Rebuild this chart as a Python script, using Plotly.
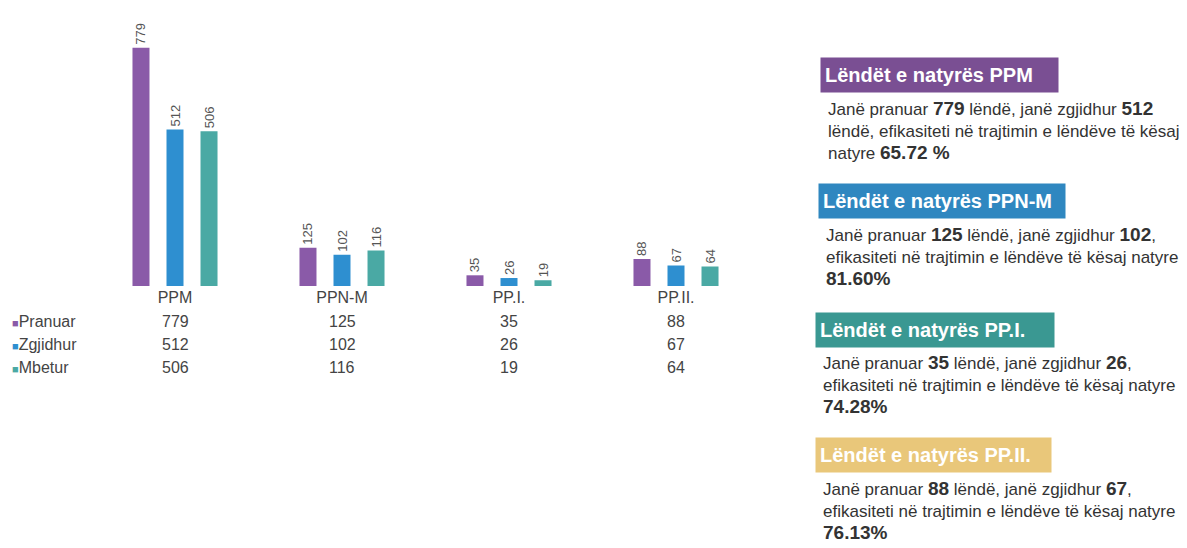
import plotly.graph_objects as go

categories = ["PPM", "PPN-M", "PP.I.", "PP.II."]
pranuar = [779, 125, 35, 88]
zgjidhur = [512, 102, 26, 67]
mbetur = [506, 116, 19, 64]
series_names = ["Pranuar", "Zgjidhur", "Mbetur"]
series_colors = ["#8A5AA8", "#2E8FD0", "#4AA9A4"]
efficacy = ["65.72 %", "81.60%", "74.28%", "76.13%"]
header_colors = ["#7A4F93", "#2F87C0", "#3A9892", "#E9C77A"]

OFF = 8  # page body margin
W, H = 1187 - OFF, 548 - OFF

def px(p):
    return (p - OFF) / W

def py(p):
    return 1 - (p - OFF) / H

fig = go.Figure()
for name, vals, col in zip(series_names, [pranuar, zgjidhur, mbetur], series_colors):
    fig.add_trace(go.Bar(
        x=categories, y=vals, name=name, marker_color=col,
        marker_line_width=0,
        text=[str(v) for v in vals], textposition="outside", textangle=-90,
        constraintext="none",
        textfont=dict(size=13, color="#555555"), cliponaxis=False,
    ))

fig.update_layout(
    width=W, height=H, margin=dict(l=0, r=0, t=0, b=0),
    paper_bgcolor="white", plot_bgcolor="white",
    font=dict(family="Liberation Sans, Arial, sans-serif", color="#444444"),
    barmode="group", bargap=0.389, bargroupgap=0.5, showlegend=False,
    uniformtext=dict(mode=False),
    xaxis=dict(domain=[px(91.5), px(759.5)], showgrid=False, showline=False,
               zeroline=False, ticks="", tickfont=dict(size=16, color="#444444")),
    yaxis=dict(domain=[py(286), py(20)], range=[0, 870], visible=False),
)

# data table rows
row_y = [321, 344, 367]
for r, (name, vals, col) in enumerate(zip(series_names, [pranuar, zgjidhur, mbetur], series_colors)):
    fig.add_annotation(xref="paper", yref="paper", x=px(10), y=py(row_y[r]),
                       xanchor="left", yanchor="middle", showarrow=False,
                       text=f"<span style='color:{col};font-size:11px'>■</span>{name}",
                       font=dict(size=16, color="#444444"))
    for i, v in enumerate(vals):
        fig.add_annotation(xref="x", yref="paper", x=categories[i], y=py(row_y[r]),
                           xanchor="center", yanchor="middle", showarrow=False,
                           text=str(v), font=dict(size=16, color="#444444"))

# right side panels
head_y = [57, 183, 312, 437]
head_x = [820, 818, 815, 815]
head_w = [237, 246, 238, 235]
body_y = [96, 222, 350, 476]
for i, cat in enumerate(categories):
    fig.add_annotation(xref="paper", yref="paper", x=px(head_x[i]), y=py(head_y[i]),
                       xanchor="left", yanchor="top", showarrow=False,
                       text=f"<b>Lëndët e natyrës {cat}</b>", align="left",
                       width=head_w[i] - 8, height=26, borderpad=4,
                       bgcolor=header_colors[i],
                       font=dict(size=20, color="white"))
    b = "<b><span style='font-size:19px'>{}</span></b>"
    if i == 0:
        body = ("Janë pranuar " + b.format(pranuar[i]) + " lëndë, janë zgjidhur "
                + b.format(zgjidhur[i]) + "<br>"
                "lëndë, efikasiteti në trajtimin e lëndëve të kësaj<br>"
                "natyre " + b.format(efficacy[i]))
    else:
        body = ("Janë pranuar " + b.format(pranuar[i]) + " lëndë, janë zgjidhur "
                + b.format(zgjidhur[i]) + ",<br>"
                "efikasiteti në trajtimin e lëndëve të kësaj natyre<br>"
                + b.format(efficacy[i]))
    fig.add_annotation(xref="paper", yref="paper", x=px(head_x[i] + 6), y=py(body_y[i]),
                       xanchor="left", yanchor="top", showarrow=False,
                       text=body, align="left",
                       font=dict(size=17, color="#333333"))

fig.write_html("out.html")
